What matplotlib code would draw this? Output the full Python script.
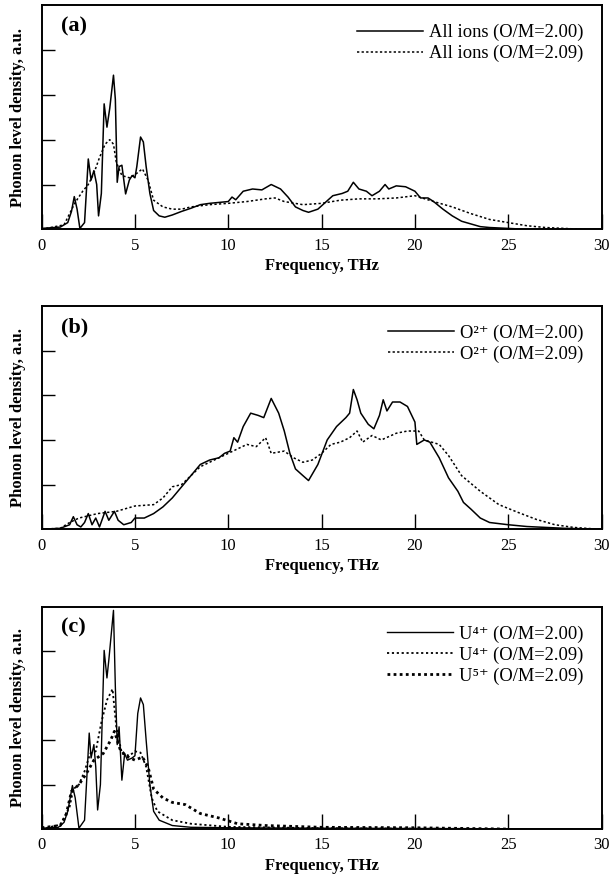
import numpy as np
import matplotlib
matplotlib.use('Agg')
import matplotlib.pyplot as plt

plt.rcParams['font.family'] = ['Liberation Serif', 'DejaVu Serif']

# panel (a): all ions
a_x_200 = [0, 1.0, 1.4, 1.6, 1.75, 1.9, 2.05, 2.3, 2.5, 2.65, 2.8, 2.95, 3.05, 3.2, 3.35, 3.5, 3.65, 3.85,
           3.95, 4.05, 4.15, 4.3, 4.5, 4.7, 4.85, 5.0, 5.1, 5.3, 5.45, 5.6, 5.8, 6.0, 6.3, 6.6, 7, 7.5, 8,
           8.5, 9, 9.5, 10, 10.2, 10.4, 10.8, 11.3, 11.8, 12.3, 12.8, 13.2, 13.6, 14.0, 14.3, 14.8, 15.2,
           15.6, 16.1, 16.4, 16.7, 17.0, 17.4, 17.7, 18.1, 18.4, 18.6, 19.0, 19.5, 20.0, 20.3, 20.7, 21.0,
           21.5, 22.0, 22.5, 23.0, 23.5, 24, 25, 26, 30]
a_y_200 = [0.02, 0.05, 0.15, 0.4, 0.73, 0.45, 0.02, 0.15, 1.57, 1.1, 1.31, 1.0, 0.3, 0.8, 2.8, 2.28, 2.7, 3.44,
           2.9, 1.05, 1.4, 1.43, 0.79, 1.1, 1.2, 1.15, 1.4, 2.06, 1.95, 1.4, 0.8, 0.42, 0.3, 0.27, 0.32, 0.4,
           0.47, 0.55, 0.58, 0.6, 0.62, 0.72, 0.66, 0.85, 0.9, 0.88, 1.0, 0.9, 0.72, 0.5, 0.42, 0.38, 0.45,
           0.6, 0.75, 0.8, 0.85, 1.05, 0.9, 0.85, 0.75, 0.85, 1.0, 0.9, 0.97, 0.95, 0.85, 0.7, 0.7, 0.62,
           0.45, 0.3, 0.18, 0.12, 0.06, 0.04, 0.02, 0.0, 0.0]
a_x_209 = [0, 1.2, 1.5, 1.8, 2.2, 2.5, 2.8, 3.1, 3.4, 3.65, 3.85, 4.0, 4.3, 4.7, 5.1, 5.4, 5.7, 6.0, 6.5, 7.0,
           7.5, 8, 9, 10, 11, 12, 12.5, 13, 14, 15, 16, 17, 18, 19, 20, 21, 22, 23, 24, 25, 26, 27, 28, 29, 30]
a_y_209 = [0.0, 0.1, 0.35, 0.6, 0.85, 1.0, 1.25, 1.6, 1.9, 2.0, 1.9, 1.5, 1.2, 1.15, 1.25, 1.35, 1.1, 0.65,
           0.5, 0.45, 0.45, 0.5, 0.55, 0.58, 0.62, 0.68, 0.7, 0.62, 0.55, 0.58, 0.65, 0.68, 0.68, 0.7, 0.75,
           0.62, 0.5, 0.35, 0.22, 0.15, 0.08, 0.04, 0.02, 0.0, 0.0]

# panel (b): O ions
b_x_200 = [0, 1.0, 1.5, 1.7, 1.9, 2.1, 2.3, 2.5, 2.7, 2.9, 3.1, 3.4, 3.6, 3.9, 4.1, 4.4, 4.8, 5.0, 5.5, 6.0,
           6.5, 7.0, 7.5, 8.0, 8.5, 9.0, 9.5, 9.8, 10.1, 10.3, 10.5, 10.8, 11.2, 11.6, 11.9, 12.3, 12.7, 13.0,
           13.3, 13.6, 14.0, 14.3, 14.8, 15.3, 15.8, 16.3, 16.5, 16.7, 16.9, 17.1, 17.5, 17.8, 18.1, 18.3,
           18.5, 18.8, 19.2, 19.6, 20.0, 20.1, 20.5, 20.8, 21.3, 21.8, 22.3, 22.6, 23.0, 23.5, 24.0, 25, 26,
           27, 28, 30]
b_y_200 = [0.0, 0.02, 0.1, 0.28, 0.1, 0.05, 0.15, 0.35, 0.1, 0.25, 0.05, 0.4, 0.2, 0.4, 0.2, 0.1, 0.15, 0.25,
           0.25, 0.35, 0.5, 0.7, 0.95, 1.2, 1.45, 1.55, 1.6, 1.7, 1.75, 2.05, 1.95, 2.3, 2.6, 2.55, 2.5, 2.93,
           2.6, 2.2, 1.7, 1.35, 1.2, 1.09, 1.45, 2.0, 2.3, 2.5, 2.6, 3.13, 2.9, 2.6, 2.35, 2.25, 2.55, 2.9,
           2.65, 2.85, 2.85, 2.75, 2.4, 1.9, 2.0, 1.95, 1.6, 1.15, 0.85, 0.6, 0.45, 0.25, 0.15, 0.1, 0.06,
           0.04, 0.02, 0.0]
b_x_209 = [0, 1, 1.5, 2, 3, 4, 5, 6, 6.5, 7, 7.5, 8, 8.5, 9, 10, 10.5, 11, 11.5, 12, 12.3, 13, 13.5, 14, 14.5,
           15, 15.5, 16, 16.5, 16.9, 17.2, 17.7, 18.2, 19, 19.6, 20.2, 20.5, 21.3, 21.8, 22.5, 23.5, 24.5,
           25.5, 26.5, 27.5, 28.5, 29.5, 30]
b_y_209 = [0.0, 0.02, 0.15, 0.25, 0.35, 0.4, 0.52, 0.55, 0.7, 0.95, 1.0, 1.2, 1.4, 1.5, 1.7, 1.8, 1.9, 1.85,
           2.05, 1.7, 1.75, 1.6, 1.5, 1.55, 1.7, 1.9, 1.95, 2.05, 2.2, 1.95, 2.1, 2.0, 2.15, 2.2, 2.2, 2.0,
           1.9, 1.65, 1.2, 0.85, 0.55, 0.38, 0.22, 0.1, 0.04, 0.01, 0.0]

# panel (c): U ions
c_x_u4_200 = [0, 0.9, 1.2, 1.4, 1.65, 1.8, 2.0, 2.3, 2.55, 2.65, 2.8, 2.9, 3.0, 3.15, 3.35, 3.5, 3.6, 3.85,
              3.95, 4.05, 4.15, 4.3, 4.45, 4.6, 4.85, 5.0, 5.15, 5.3, 5.45, 5.6, 5.8, 6.0, 6.3, 7, 8, 10, 15, 30]
c_y_u4_200 = [0.02, 0.04, 0.15, 0.4, 0.98, 0.7, 0.02, 0.2, 2.16, 1.6, 1.9, 1.4, 0.43, 1.0, 4.02, 3.4, 3.8,
              4.92, 3.2, 1.9, 2.3, 1.1, 1.7, 1.55, 1.6, 1.65, 2.6, 2.95, 2.8, 2.0, 1.0, 0.4, 0.2, 0.08, 0.04,
              0.03, 0.02, 0.0]
c_x_u4_209 = [0, 1, 1.5, 1.7, 2, 2.3, 2.6, 2.9, 3.2, 3.5, 3.8, 4.0, 4.3, 4.7, 5.0, 5.3, 5.6, 5.9, 6.2, 7, 8,
              10, 15, 20, 25]
c_y_u4_209 = [0.0, 0.1, 0.5, 0.9, 1.0, 1.3, 1.7, 1.75, 2.4, 2.9, 3.15, 2.3, 1.7, 1.65, 1.75, 1.72, 1.4, 0.7,
              0.4, 0.2, 0.12, 0.05, 0.02, 0.01, 0.0]
c_x_u5_209 = [0, 1.0, 1.3, 1.6, 2.0, 2.4, 2.8, 3.3, 3.7, 3.9, 4.2, 4.5, 5.0, 5.4, 5.7, 6.0, 6.5, 7.0, 7.7,
              8.5, 9.5, 10.5, 12, 15, 20, 25]
c_y_u5_209 = [0.03, 0.08, 0.3, 0.85, 1.0, 1.25, 1.55, 1.7, 2.0, 2.2, 1.8, 1.65, 1.55, 1.62, 1.4, 0.9, 0.7,
              0.6, 0.55, 0.35, 0.25, 0.12, 0.08, 0.04, 0.03, 0.0]

fig = plt.figure(figsize=(6.12, 8.82), dpi=100)
left, width = 0.068, 0.915
ax_a = fig.add_axes([left, 0.740, width, 0.254])
ax_b = fig.add_axes([left, 0.400, width, 0.253])
ax_c = fig.add_axes([left, 0.060, width, 0.252])


def style(ax, tag):
    ax.set_xlim(0, 30)
    ax.set_ylim(0, 5)
    ax.set_xticks(np.arange(0, 31, 5))
    ax.set_yticks([1, 2, 3, 4])
    ax.set_yticklabels([])
    ax.tick_params(axis='x', direction='in', length=11, width=1, labelsize=12, pad=6)
    ax.tick_params(axis='y', direction='in', length=9, width=1)
    for s in ax.spines.values():
        s.set_linewidth(1.4)
    ax.set_xlabel('Frequency, THz', fontsize=12, fontweight='bold', labelpad=3)
    ax.set_ylabel('Phonon level density, a.u.', fontsize=12, fontweight='bold', labelpad=8)
    ax.text(0.035, 0.95, tag, transform=ax.transAxes, fontsize=16, fontweight='bold', va='top')
    leg = ax.legend(loc='upper right', frameon=False, fontsize=13.3, handlelength=3.6,
                    handletextpad=0.3, labelspacing=0.2, borderaxespad=0.6)
    return leg


ax_a.plot(a_x_200, a_y_200, color='black', lw=1.1, label='All ions (O/M=2.00)')
ax_a.plot(a_x_209, a_y_209, color='black', lw=1.1, ls=(0, (1.5, 1.5)), label='All ions (O/M=2.09)')
style(ax_a, '(a)')

ax_b.plot(b_x_200, b_y_200, color='black', lw=1.1, label='O\u00b2\u207a (O/M=2.00)')
ax_b.plot(b_x_209, b_y_209, color='black', lw=1.1, ls=(0, (1.5, 1.5)), label='O\u00b2\u207a (O/M=2.09)')
style(ax_b, '(b)')

ax_c.plot(c_x_u4_200, c_y_u4_200, color='black', lw=1.0, label='U\u2074\u207a (O/M=2.00)')
ax_c.plot(c_x_u4_209, c_y_u4_209, color='black', lw=1.3, ls=(0, (1.2, 1.5)), label='U\u2074\u207a (O/M=2.09)')
ax_c.plot(c_x_u5_209, c_y_u5_209, color='black', lw=2.0, ls=(0, (1.0, 1.2)), label='U\u2075\u207a (O/M=2.09)')
style(ax_c, '(c)')

fig.savefig('out.png', dpi=100)
